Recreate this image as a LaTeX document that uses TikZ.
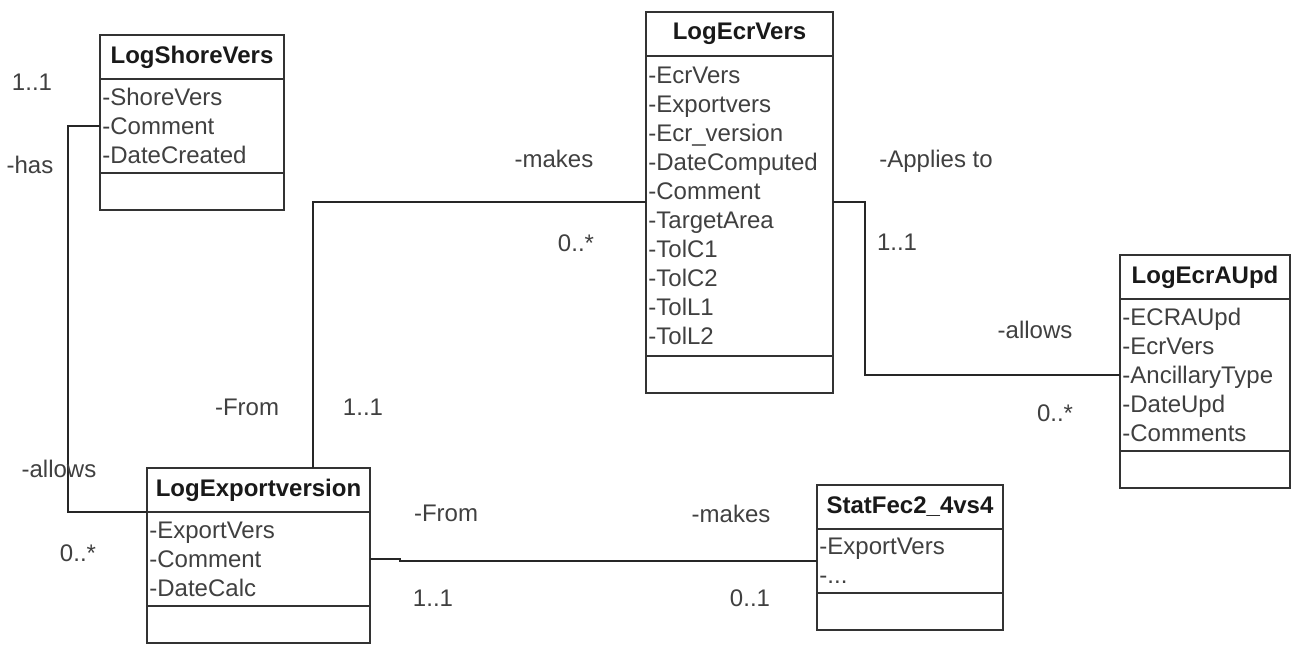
\documentclass[tikz,border=0pt]{standalone}
\usepackage{fontspec}
\setmainfont{Liberation Sans}
\usetikzlibrary{calc}
\tikzstyle{cbox}=[rectangle, draw=black!80, line width=1pt, inner sep=0pt, outer sep=0pt, anchor=north west]
\tikzstyle{ctitle}=[inner sep=0pt, font=\fontsize{12}{14.5}\selectfont\bfseries, text=black!90]
\tikzstyle{cattr}=[align=left, anchor=west, inner xsep=1pt, inner ysep=0pt, font=\fontsize{12}{14.5}\selectfont, text=black!75]
\tikzstyle{annot}=[anchor=base, inner sep=0pt, font=\fontsize{12}{14.5}\selectfont, text=black!75]
\tikzstyle{link}=[draw=black!85, line width=1pt]
% name, top left, width, title, attribute height, attributes
\newcommand{\umlclass}[6]
{
  \node[cbox, minimum width=#3, minimum height=22pt](#1) at (#2){};
  \node[ctitle](#1-title) at (#1.center){#4};
  \node[cbox, minimum width=#3, minimum height=#5](#1-attr) at (#1.south west){};
  \node[cattr](#1-list) at (#1-attr.west){#6};
  \node[cbox, minimum width=#3, minimum height=18.5pt](#1-ops) at (#1-attr.south west){};
}

\begin{document}
\begin{tikzpicture}[x=0.5pt, y=-0.5pt]
	\fill[white] (0,0) rectangle (1293,644);

	\umlclass{shore}{100,35}{92pt}{LogShoreVers}{47pt}{-ShoreVers\\-Comment\\-DateCreated}
	\umlclass{ecrvers}{646,12}{93.5pt}{LogEcrVers}{150pt}{-EcrVers\\-Exportvers\\-Ecr\_version\\-DateComputed\\-Comment\\-TargetArea\\-TolC1\\-TolC2\\-TolL1\\-TolL2}
	\umlclass{ecraupd}{1120,255}{85pt}{LogEcrAUpd}{76pt}{-ECRAUpd\\-EcrVers\\-AncillaryType\\-DateUpd\\-Comments}
	\umlclass{export}{147,468}{111.5pt}{LogExportversion}{47pt}{-ExportVers\\-Comment\\-DateCalc}
	\umlclass{stat}{817,485}{93pt}{StatFec2\_4vs4}{32pt}{-ExportVers\\-...}

	% associations
	\draw[link] (shore-attr.west) -- ++(-32,0) |- (export.south west);
	\draw[link] ([yshift=2pt]ecrvers-attr.west) -| ([xshift=27.25pt]export.north);
	\draw[link] ([yshift=2pt]ecrvers-attr.east) -- ++(32,0) |- (ecraupd-attr.west);
	\draw[link] (export-attr.east) -- ++(30,0) |- (stat-attr.west);

	% roles and multiplicities
	\node[annot](shore-mult) at (32,90){1..1};
	\node[annot](shore-role) at (30,173){-has};
	\node[annot](export-role1) at (59,477){-allows};
	\node[annot](export-mult1) at (78,561){0..*};
	\node[annot](ecrvers-role1) at (554,167){-makes};
	\node[annot](ecrvers-mult1) at (576,251){0..*};
	\node[annot](export-role2) at (247,415){-From};
	\node[annot](export-mult2) at (363,415){1..1};
	\node[annot](ecrvers-role2) at (936,167){-Applies to};
	\node[annot](ecrvers-mult2) at (897,250){1..1};
	\node[annot](ecraupd-role) at (1035,338){-allows};
	\node[annot](ecraupd-mult) at (1055,421){0..*};
	\node[annot](export-role3) at (446,521){-From};
	\node[annot](export-mult3) at (433,606){1..1};
	\node[annot](stat-role) at (731,522){-makes};
	\node[annot](stat-mult) at (750,606){0..1};
\end{tikzpicture}
\end{document}
